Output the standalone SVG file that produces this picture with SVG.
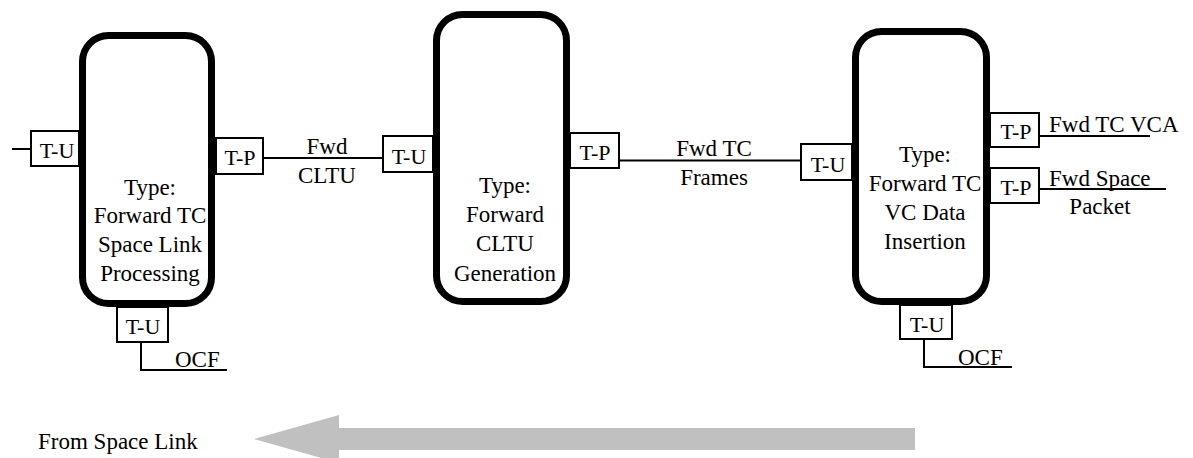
<svg xmlns="http://www.w3.org/2000/svg" width="1193" height="458" viewBox="0 0 1193 458" font-family="'Liberation Serif', 'DejaVu Serif', serif">
<style>
.node{fill:#fff;stroke:#000;stroke-width:7}
.port{fill:#fff;stroke:#000;stroke-width:2}
.ln{fill:none;stroke:#000;stroke-width:2}
text{font-family:'Liberation Serif','DejaVu Serif',serif;font-size:23px;fill:#000}
.c{text-anchor:middle}
.p{font-size:22px;text-anchor:middle}
</style>
<rect width="1193" height="458" fill="#fff"/>
<g id="connectors">
<line class="ln" x1="12" y1="149" x2="31" y2="149"/>
<line class="ln" x1="263" y1="158" x2="383" y2="158"/>
<line class="ln" x1="619" y1="160.5" x2="801" y2="160.5"/>
<line class="ln" x1="1039" y1="136" x2="1150" y2="136"/>
<line class="ln" x1="1039" y1="189" x2="1166" y2="189"/>
<polyline class="ln" points="141,342 141,370 227,370"/>
<polyline class="ln" points="924,339 924,367 1012,367"/>
<text class="c" x="327" y="154">Fwd</text>
<text class="c" x="327" y="183">CLTU</text>
<text class="c" x="714" y="156">Fwd TC</text>
<text class="c" x="714" y="185">Frames</text>
<text x="1049" y="132">Fwd TC VCA</text>
<text x="1049" y="186">Fwd Space</text>
<text class="c" x="1100" y="214">Packet</text>
<text x="175" y="367">OCF</text>
<text x="958" y="365">OCF</text>
</g>
<g id="node1">
<rect class="node" x="82.5" y="35.5" width="129" height="268" rx="26"/>
<rect class="port" x="31" y="131" width="48" height="35"/>
<text class="p" x="57" y="158">T-U</text>
<rect class="port" x="216" y="138" width="47" height="36"/>
<text class="p" x="240" y="165">T-P</text>
<rect class="port" x="117" y="307" width="51" height="35"/>
<text class="p" x="143" y="334">T-U</text>
<text class="c" x="150" y="195">Type:</text>
<text class="c" x="150" y="223">Forward TC</text>
<text class="c" x="150" y="252">Space Link</text>
<text class="c" x="150" y="281">Processing</text>
</g>
<g id="node2">
<rect class="node" x="436.5" y="14.5" width="130" height="287" rx="26"/>
<rect class="port" x="383" y="136" width="50" height="36"/>
<text class="p" x="409" y="164">T-U</text>
<rect class="port" x="570" y="133" width="49" height="35"/>
<text class="p" x="595" y="160">T-P</text>
<text class="c" x="505" y="193">Type:</text>
<text class="c" x="505" y="222">Forward</text>
<text class="c" x="505" y="251">CLTU</text>
<text class="c" x="505" y="281">Generation</text>
</g>
<g id="node3">
<rect class="node" x="855.5" y="31.5" width="131" height="270" rx="26"/>
<rect class="port" x="801" y="144" width="51" height="36"/>
<text class="p" x="828" y="172">T-U</text>
<rect class="port" x="990" y="113" width="49" height="34"/>
<text class="p" x="1016" y="139">T-P</text>
<rect class="port" x="990" y="168" width="49" height="35"/>
<text class="p" x="1016" y="195">T-P</text>
<rect class="port" x="900" y="305" width="52" height="34"/>
<text class="p" x="927" y="332">T-U</text>
<text class="c" x="925" y="162">Type:</text>
<text class="c" x="925" y="191">Forward TC</text>
<text class="c" x="925" y="220">VC Data</text>
<text class="c" x="925" y="249">Insertion</text>
</g>
<g id="flow">
<polygon points="254,439 339,415 339,428 915,428 915,450 339,450 339,463" fill="#c0c0c0"/>
<text x="38" y="449">From Space Link</text>
</g>
</svg>
